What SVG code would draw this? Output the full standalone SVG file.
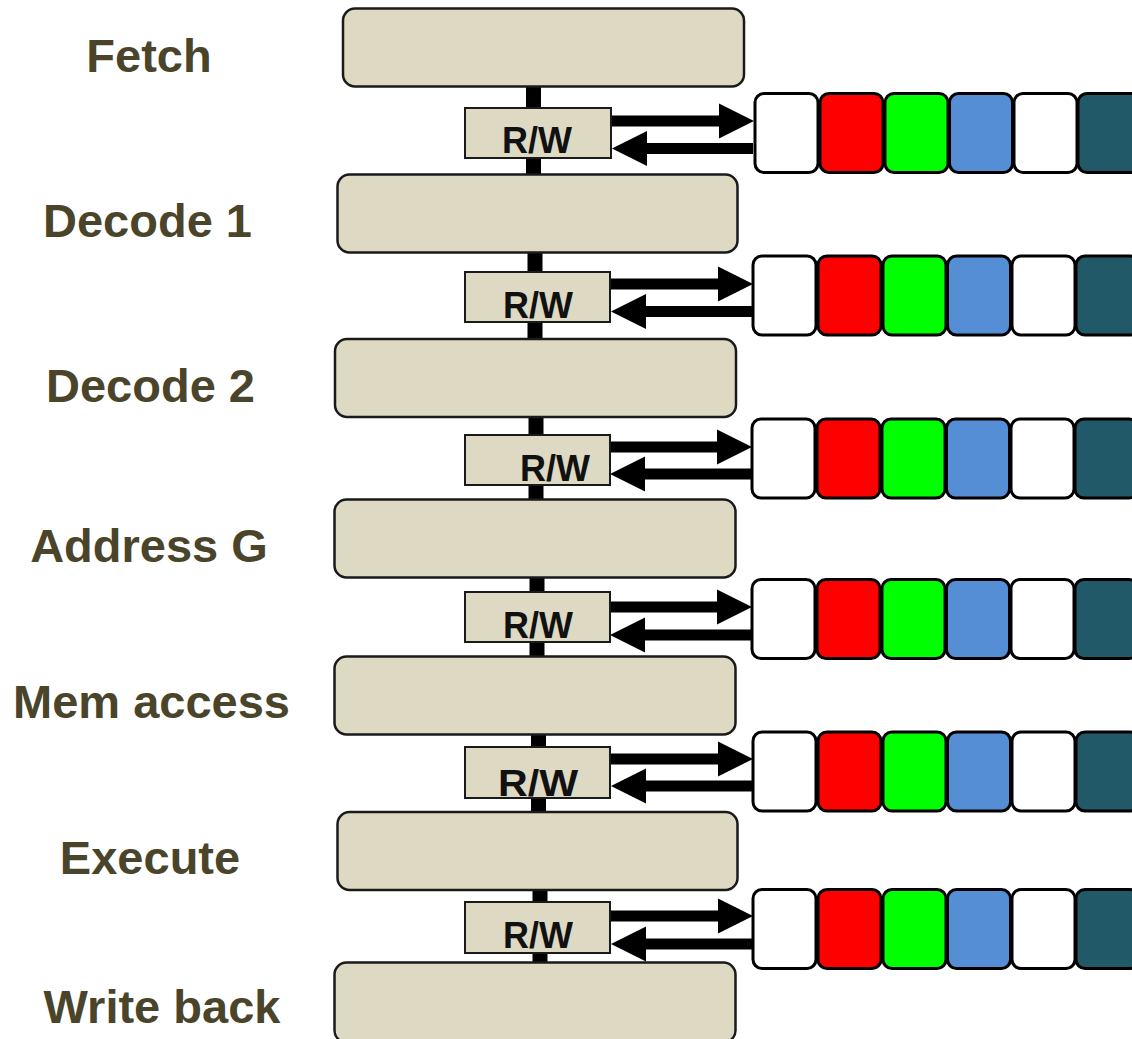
<svg xmlns="http://www.w3.org/2000/svg" xmlns:xlink="http://www.w3.org/1999/xlink" width="1132" height="1039" viewBox="0 0 1132 1039">
  <style>
    .stage { fill: #DDD9C3; stroke: #1a1a1a; stroke-width: 2.5; }
    .latch { fill: #DDD9C3; stroke: #1a1a1a; stroke-width: 2; }
    .bus { fill: #000; }
    .cell { stroke: #000; stroke-width: 3; }
    .c-white { fill: #FFFFFF; }
    .c-red { fill: #FF0000; }
    .c-green { fill: #00FF00; }
    .c-blue { fill: #558ED5; }
    .c-teal { fill: #215968; }
    .label { font-family: "Liberation Sans", Arial, sans-serif; font-weight: bold; font-size: 47px; fill: #4A452A; text-anchor: middle; }
    .rw { font-family: "Liberation Sans", Arial, sans-serif; font-weight: bold; font-size: 36px; fill: #111; text-anchor: middle; }
  </style>
  <defs>
    <!-- write arrow: latch edge to register file; origin = latch right edge, shaft centre -->
    <path id="arrowOut" d="M0,-5.5 H108 V-17.5 L143,0 L108,17.5 V5.5 H0 Z" fill="#000"/>
    <!-- read arrow: register file back to latch; origin = latch right edge, shaft centre -->
    <path id="arrowIn" d="M1,0 L36,-17.5 V-5.5 H142 V5.5 H36 V17.5 Z" fill="#000"/>
    <!-- one register file row: six rounded cells -->
    <g id="regRow">
      <rect class="cell c-white" x="0" y="0" width="63" height="79" rx="9"/>
      <rect class="cell c-red" x="65" y="0" width="63" height="79" rx="9"/>
      <rect class="cell c-green" x="130" y="0" width="63" height="79" rx="9"/>
      <rect class="cell c-blue" x="194.5" y="0" width="63" height="79" rx="9"/>
      <rect class="cell c-white" x="259" y="0" width="63" height="79" rx="9"/>
      <rect class="cell c-teal" x="323" y="0" width="63" height="79" rx="9"/>
    </g>
  </defs>

  <!-- connectors: vertical buses between stages and read/write arrows -->
  <g id="connectors">
    <rect class="bus" x="526" y="86" width="15" height="90"/>
    <rect class="bus" x="527.5" y="251" width="15" height="90"/>
    <rect class="bus" x="528.5" y="415" width="15" height="86"/>
    <rect class="bus" x="529.5" y="576" width="15" height="82"/>
    <rect class="bus" x="531" y="733" width="15" height="81"/>
    <rect class="bus" x="532.5" y="888" width="15" height="76"/>

    <use xlink:href="#arrowOut" transform="translate(611,121)"/>
    <use xlink:href="#arrowIn" transform="translate(611,148.5)"/>
    <use xlink:href="#arrowOut" transform="translate(610,284)"/>
    <use xlink:href="#arrowIn" transform="translate(610,311.5)"/>
    <use xlink:href="#arrowOut" transform="translate(609,447)"/>
    <use xlink:href="#arrowIn" transform="translate(609,474)"/>
    <use xlink:href="#arrowOut" transform="translate(609,607)"/>
    <use xlink:href="#arrowIn" transform="translate(609,635)"/>
    <use xlink:href="#arrowOut" transform="translate(610,759)"/>
    <use xlink:href="#arrowIn" transform="translate(610,786)"/>
    <use xlink:href="#arrowOut" transform="translate(610,916)"/>
    <use xlink:href="#arrowIn" transform="translate(610,944)"/>
  </g>

  <!-- pipeline stages -->
  <g id="stage-fetch">
    <rect class="stage" x="343" y="8.5" width="401" height="78" rx="12"/>
    <text class="label" x="149" y="72">Fetch</text>
  </g>
  <g id="stage-decode1">
    <rect class="stage" x="337.5" y="174.5" width="400" height="78" rx="12"/>
    <text class="label" x="147.5" y="237">Decode 1</text>
  </g>
  <g id="stage-decode2">
    <rect class="stage" x="335" y="339" width="401" height="78" rx="12"/>
    <text class="label" x="150.5" y="402">Decode 2</text>
  </g>
  <g id="stage-address">
    <rect class="stage" x="334.5" y="499.5" width="401" height="78" rx="12"/>
    <text class="label" x="149" y="562">Address G</text>
  </g>
  <g id="stage-mem">
    <rect class="stage" x="334.5" y="656.5" width="401" height="78" rx="12"/>
    <text class="label" x="151.5" y="718">Mem access</text>
  </g>
  <g id="stage-execute">
    <rect class="stage" x="337.5" y="812" width="400" height="78" rx="12"/>
    <text class="label" x="150" y="874">Execute</text>
  </g>
  <g id="stage-writeback">
    <rect class="stage" x="334.5" y="962.5" width="401" height="80" rx="12"/>
    <text class="label" x="162" y="1023">Write back</text>
  </g>

  <!-- read/write latches between stages -->
  <g id="latch-1">
    <rect class="latch" x="465" y="108" width="146" height="50"/>
    <text class="rw" x="537" y="153">R/W</text>
  </g>
  <g id="latch-2">
    <rect class="latch" x="465" y="272" width="145" height="50"/>
    <text class="rw" x="538" y="318">R/W</text>
  </g>
  <g id="latch-3">
    <rect class="latch" x="465" y="435" width="145" height="50"/>
    <text class="rw" x="555" y="481">R/W</text>
  </g>
  <g id="latch-4">
    <rect class="latch" x="465" y="592" width="145" height="50"/>
    <text class="rw" x="538" y="638">R/W</text>
  </g>
  <g id="latch-5">
    <rect class="latch" x="465" y="747" width="145" height="51"/>
    <text class="rw" x="538" y="796" textLength="80" lengthAdjust="spacingAndGlyphs">R/W</text>
  </g>
  <g id="latch-6">
    <rect class="latch" x="465" y="902" width="145" height="51"/>
    <text class="rw" x="538" y="948">R/W</text>
  </g>

  <!-- register file rows -->
  <g id="regs-1"><use xlink:href="#regRow" transform="translate(755,93.5)"/></g>
  <g id="regs-2"><use xlink:href="#regRow" transform="translate(753,256)"/></g>
  <g id="regs-3"><use xlink:href="#regRow" transform="translate(752,419)"/></g>
  <g id="regs-4"><use xlink:href="#regRow" transform="translate(752,579.5)"/></g>
  <g id="regs-5"><use xlink:href="#regRow" transform="translate(753,732)"/></g>
  <g id="regs-6"><use xlink:href="#regRow" transform="translate(753,889.5)"/></g>
</svg>
